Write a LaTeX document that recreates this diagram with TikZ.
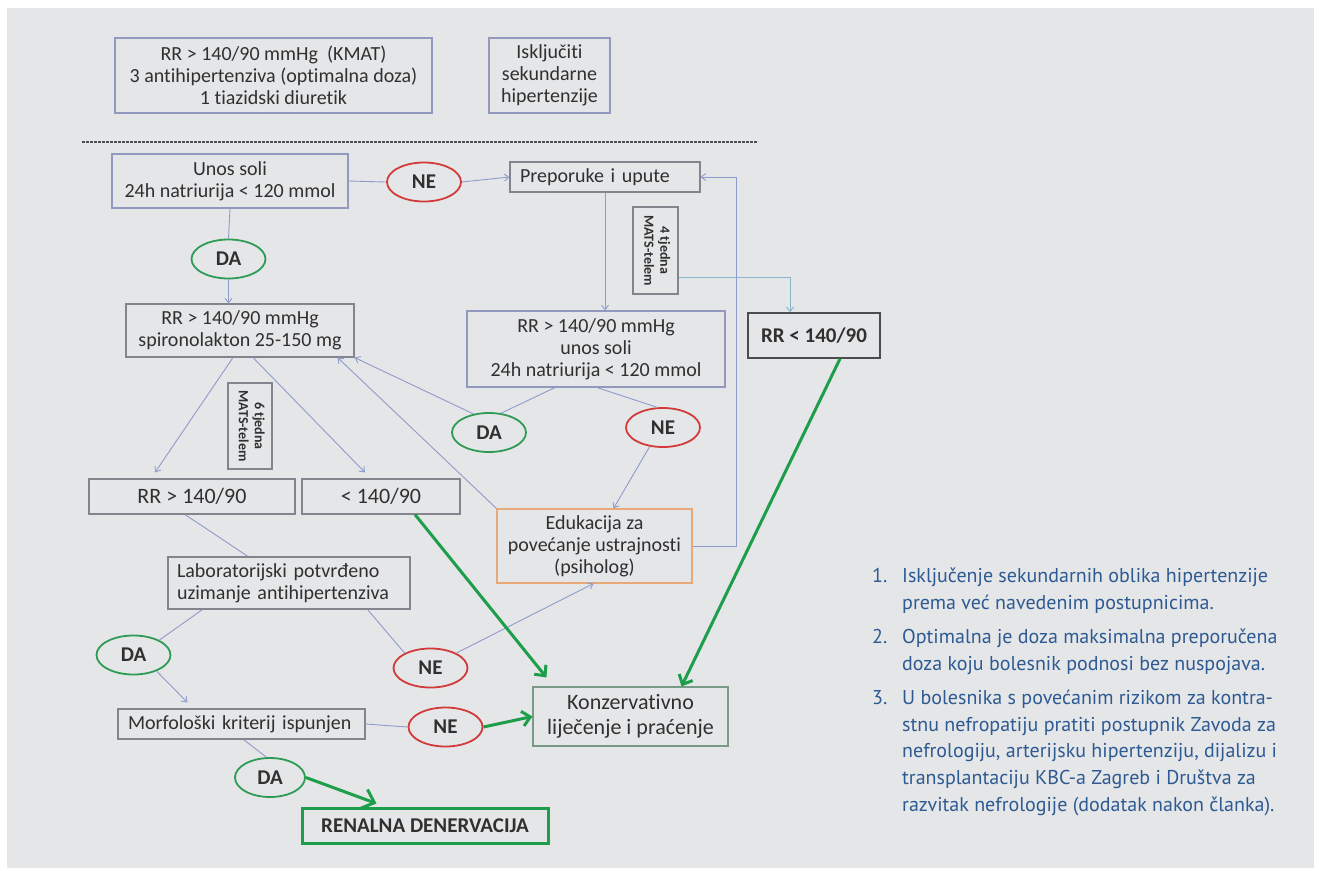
\documentclass[tikz,border=0pt]{standalone}
\usepackage{fontspec}
\usepackage{graphicx}
\setmainfont{Carlito}[Ligatures=NoCommon]
\newfontfamily\notefont{PT Sans}
\usetikzlibrary{arrows.meta,shapes.geometric,calc}

\definecolor{panel}{HTML}{E5E6E8}
\definecolor{ink}{HTML}{303030}
\definecolor{frame}{HTML}{84848E}
\definecolor{blueframe}{HTML}{9399BE}
\definecolor{link}{HTML}{8E9CCB}
\definecolor{tealink}{HTML}{86B4C8}
\definecolor{okgreen}{HTML}{2E9B55}
\definecolor{nored}{HTML}{D23A3A}
\definecolor{gogreen}{HTML}{1E9E4A}
\definecolor{eduorange}{HTML}{E8A878}
\definecolor{consframe}{HTML}{7A9A88}
\definecolor{noteblue}{HTML}{2D5A92}

\begin{document}
\begin{tikzpicture}[x=1pt,y=-1pt,
  sz/.style 2 args={minimum width=#1pt, minimum height=#2pt},
  box/.style={draw=frame, line width=1.1pt, inner sep=0pt, align=center,
    text=ink, font=\fontsize{20}{22}\selectfont},
  tbox/.style={draw=frame, line width=1.1pt, inner sep=0pt, text=ink},
  yes/.style={ellipse, draw=okgreen, line width=1.8pt, inner sep=0pt,
    minimum width=74pt, minimum height=39pt, text=ink,
    font=\bfseries\fontsize{21}{21}\selectfont},
  no/.style={yes, draw=nored},
  link/.style={draw=link, line width=0.9pt},
  arr/.style={-{Straight Barb[length=4.5pt,width=7pt]}},
  go/.style={draw=gogreen, line width=3pt,
    -{Straight Barb[length=8pt,width=15pt]}},
  bigtip/.style={-{Straight Barb[length=11pt,width=20pt]}},
  sep/.style={draw=ink!85, line width=1.6pt, dash pattern=on 2.6pt off 1.4pt},
  note/.style={anchor=base west, inner sep=0pt, text=noteblue,
    font=\notefont\fontsize{20}{27}\selectfont}]

\useasboundingbox (0,0) rectangle (1319,870);
\fill[white] (0,0) rectangle (1319,870);
\fill[panel] (7,8) rectangle (1314,868);

% entry conditions
\node[box, draw=blueframe, sz={317}{75}] (cond) at (273.5,75.5)
  {RR > 140/90 mmHg~~(KMAT)\\3 antihipertenziva (optimalna doza)\\1 tiazidski diuretik};
\node[box, draw=blueframe, sz={121}{75}] (excl) at (549.5,75.5)
  {Isključiti\\sekundarne\\hipertenzije};
\draw[sep] (82,142) -- (758,142);

% salt intake branch
\node[box, draw=blueframe, sz={236}{54}] (salt) at (230,181)
  {Unos soli\\24h natriurija < 120 mmol};
\node[no] (ne1) at (424,182) {NE};
\node[box, sz={190}{30}, align=left, text width=170pt, inner xsep=10pt] (advice) at (605,177)
  {Preporuke i upute};
\node[tbox, sz={45}{87}] (wk4) at (655.5,250.5)
  {\rotatebox{-90}{\fontsize{14}{16}\selectfont\bfseries
   \begin{tabular}{@{}c@{}}4 tjedna\\MATS-telem\end{tabular}}};
\node[box, draw=blueframe, sz={258}{76}] (salt2) at (596,349)
  {RR > 140/90 mmHg\\unos soli\\24h natriurija < 120 mmol};
\node[box, draw=black!70, line width=1.5pt, sz={132}{45},
  font=\bfseries\fontsize{21}{24}\selectfont] (ok1) at (814,335.5) {RR < 140/90};

% spironolactone branch
\node[yes] (da1) at (228.5,259) {DA};
\node[box, sz={228}{53}] (spiro) at (240,330.5)
  {RR > 140/90 mmHg\\spironolakton 25-150 mg};
\node[tbox, sz={44}{86}] (wk6) at (250,426)
  {\rotatebox{-90}{\fontsize{14}{16}\selectfont\bfseries
   \begin{tabular}{@{}c@{}}6 tjedna\\MATS-telem\end{tabular}}};
\node[box, sz={206}{35}, font=\fontsize{22}{24}\selectfont] (high) at (192,496.5) {RR > 140/90};
\node[box, sz={158}{35}, font=\fontsize{22}{24}\selectfont] (low) at (381,496.5) {< 140/90};
\node[yes] (da2) at (489,432.5) {DA};
\node[no] (ne2) at (663,427.5) {NE};
\node[box, draw=eduorange, sz={195}{74}] (edu) at (594.5,546)
  {Edukacija za\\povećanje ustrajnosti\\(psiholog)};

% adherence and morphology
\node[box, sz={242}{52}, align=left, text width=224pt, inner xsep=9pt] (lab) at (289,583)
  {Laboratorijski potvrđeno\\uzimanje antihipertenziva};
\node[yes] (da3) at (133.5,655) {DA};
\node[no] (ne3) at (430.5,668) {NE};
\node[box, sz={247}{30}, align=left, text width=227pt, inner xsep=10pt] (morph) at (241.5,724)
  {Morfološki kriterij ispunjen};
\node[no] (ne4) at (445.5,727) {NE};
\node[box, draw=consframe, sz={195}{59}, font=\fontsize{22}{25}\selectfont] (cons) at (630.5,716.5)
  {Konzervativno\\liječenje i praćenje};
\node[yes, minimum width=70pt] (da4) at (270,777.5) {DA};
\node[box, draw=gogreen, line width=3pt, sz={246}{35},
  font=\bfseries\fontsize{21}{24}\selectfont] (rdn) at (425,825.5) {RENALNA DENERVACIJA};

% thin connectors
\draw[link] (salt.east) -- (ne1.west);
\draw[link, arr] (ne1.east) -- (advice.west);
\draw[link, arr] (advice.south) -- (advice.south |- salt2.north);
\draw[link, draw=tealink, arr] ($(wk4.east)+(0,26.5)$) -| ($(ok1.north)+(-24,0)$);
\draw[link, arr] (edu.east) -- ++(44,0) |- (advice.east);
\draw[link] (salt.south) -- (da1.north);
\draw[link, arr] (da1.south) -- (da1.south |- spiro.north);
\draw[link, arr] ($(spiro.south)+(-7,0)$) -- ($(high.north)+(-37,-6)$);
\draw[link, arr] ($(spiro.south)+(13,0)$) -- ($(low.north)+(-16,-6)$);
\draw[link] ($(salt2.south)+(-41,0)$) -- (da2.58);
\draw[link] ($(salt2.south)+(1,0)$) -- (ne2.106);
\draw[link, arr] (da2.130) -- (spiro.south east);
\draw[link, arr] (edu.north west) -- ($(spiro.south east)+(-17,0)$);
\draw[link, arr] (ne2.235) -- ($(edu.north)+(19,0)$);
\draw[link] ($(high.south)+(-7,0)$) -- ($(lab.north)+(-41,0)$);
\draw[link] ($(lab.south west)+(35,0)$) -- (da3.30);
\draw[link, arr] (da3.-35) -- ($(morph.north west)+(70,-6)$);
\draw[link] ($(lab.south east)+(-43,0)$) -- (ne3.150);
\draw[link, arr] (ne3.30) -- ($(edu.south)+(-1,0)$);
\draw[link] (morph.east) -- (ne4.west);
\draw[link] ($(morph.south)+(2,0)$) -- (da4.100);

% outcome arrows
\draw[go] (ne4.east) -- (cons.west);
\draw[go] ($(low.south)+(34,0)$) -- ($(cons.north west)+(14,-9)$);
\draw[go] ($(ok1.south)+(26,0)$) -- ($(cons.north)+(51,0)$);
\draw[go, bigtip] (da4.east) -- ($(rdn.north west)+(76,-3)$);

% footnotes
\node[note] (m1) at (872,582) {1.};
\node[note] (t1a) at (902,582) {Isključenje sekundarnih oblika hipertenzije};
\node[note] (t1b) at (902,609) {prema već navedenim postupnicima.};
\node[note] (m2) at (872,643) {2.};
\node[note] (t2a) at (902,643) {Optimalna je doza maksimalna preporučena};
\node[note] (t2b) at (902,670) {doza koju bolesnik podnosi bez nuspojava.};
\node[note] (m3) at (872,704) {3.};
\node[note] (t3a) at (902,704) {U bolesnika s povećanim rizikom za kontra-};
\node[note] (t3b) at (902,731) {stnu nefropatiju pratiti postupnik Zavoda za};
\node[note] (t3c) at (902,757) {nefrologiju, arterijsku hipertenziju, dijalizu i};
\node[note] (t3d) at (902,784) {transplantaciju KBC-a Zagreb i Društva za};
\node[note] (t3e) at (902,811) {razvitak nefrologije (dodatak nakon članka).};
\end{tikzpicture}
\end{document}
